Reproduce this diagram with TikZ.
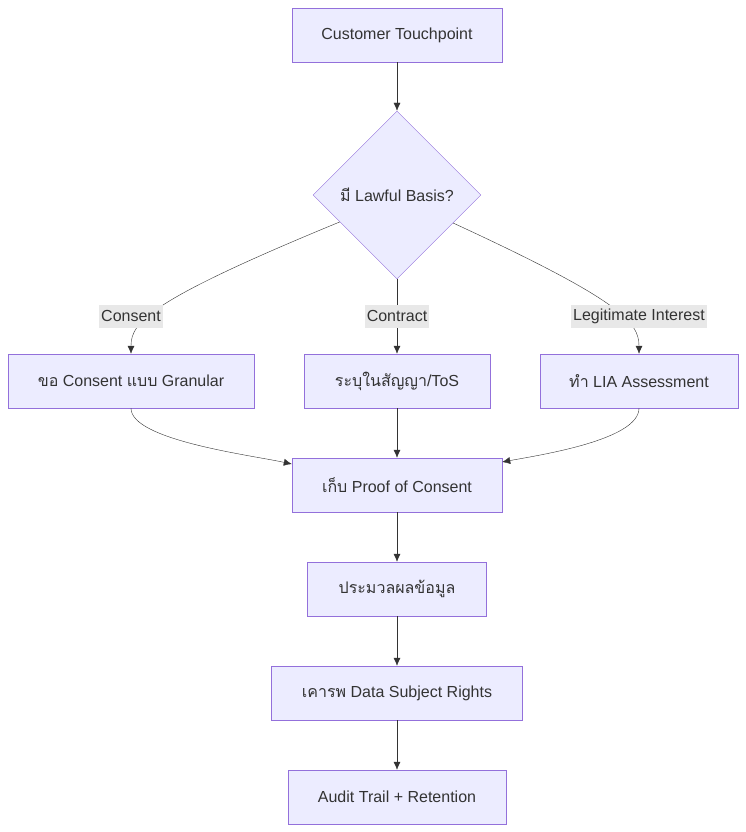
\documentclass[tikz,border=0pt]{standalone}
\usepackage{fontspec}
\setmainfont{Liberation Sans}
\newfontfamily\thaifont[Script=Thai]{Loma}
\newcommand{\thai}[1]{{\thaifont #1}}
\usepackage{tikz}
\usetikzlibrary{arrows.meta, calc, shapes.geometric}

\definecolor{boxfill}{HTML}{ECECFF}
\definecolor{boxline}{HTML}{9370DB}
\definecolor{inkgray}{HTML}{333333}
\definecolor{labelbg}{HTML}{E8E8E8}

\tikzset{
    stepbox/.style={draw=boxline, fill=boxfill, text=inkgray, minimum height=54pt, inner sep=0pt},
    decision/.style={diamond, draw=boxline, fill=boxfill, text=inkgray, minimum width=168pt, minimum height=168pt, inner sep=0pt},
    flow/.style={draw=inkgray, -{Latex[length=8pt, width=7pt]}},
    edgelabel/.style={fill=labelbg, text=inkgray, inner sep=2pt, minimum height=23pt}
}

\begin{document}
\begin{tikzpicture}[x=1pt, y=-1pt, font=\fontsize{16}{19}\selectfont]
    \useasboundingbox (0,0) rectangle (746,832);

    % --- MAIN COLUMN ---
    \node[stepbox, minimum width=210pt] (cust) at (397,35) {Customer Touchpoint};
    \node[decision] (basis) at (397,195) {\thai{มี} Lawful Basis?};

    % --- THREE BASES ---
    \node[stepbox, minimum width=246pt] (consent) at (131,381) {\thai{ขอ} Consent \thai{แบบ} Granular};
    \node[stepbox, minimum width=186pt] (contract) at (397,381) {\thai{ระบุในสัญญา}/ToS};
    \node[stepbox, minimum width=198pt] (lia) at (639,381) {\thai{ทำ} LIA Assessment};

    % --- AFTER MERGE ---
    \node[stepbox, minimum width=210pt] (proof) at (397,485) {\thai{เก็บ} Proof of Consent};
    \node[stepbox, minimum width=179pt] (process) at (397,589) {\thai{ประมวลผลข้อมูล}};
    \node[stepbox, minimum width=251pt] (rights) at (397,693) {\thai{เคารพ} Data Subject Rights};
    \node[stepbox, minimum width=218pt] (audit) at (397,797) {Audit Trail + Retention};

    % Exit points on the diamond
    \coordinate (bl) at ($(basis.west)!0.32!(basis.south)$);
    \coordinate (br) at ($(basis.east)!0.333!(basis.south)$);

    % Connectors
    \draw[flow] (cust) -- (basis);
    \draw[flow] (bl) .. controls (150,300) and (131,322) .. (consent.north);
    \draw[flow] (basis.south) -- (contract.north);
    \draw[flow] (br) .. controls (620,300) and (639,322) .. (lia.north);
    \draw[flow] (consent.south) .. controls (131,440) and (250,455) .. ($(proof.west)+(0,-21)$);
    \draw[flow] (contract) -- (proof);
    \draw[flow] (lia.south) .. controls (639,440) and (540,455) .. ($(proof.east)+(0,-23)$);
    \draw[flow] (proof) -- (process);
    \draw[flow] (process) -- (rights);
    \draw[flow] (rights) -- (audit);

    % Edge labels
    \node[edgelabel] (lconsent) at (131,316) {Consent};
    \node[edgelabel] (lcontract) at (397,316) {Contract};
    \node[edgelabel] (llia) at (639,316) {Legitimate Interest};
\end{tikzpicture}
\end{document}
